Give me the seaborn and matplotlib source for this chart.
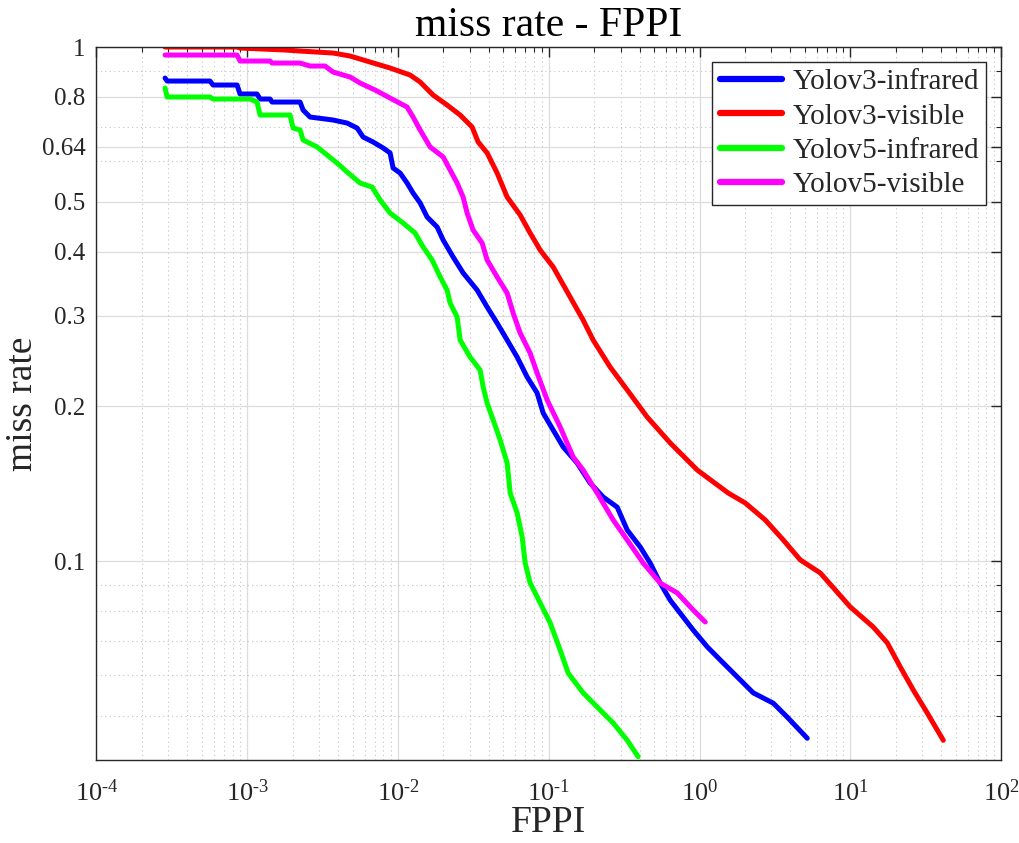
import numpy as np
import pandas as pd
import matplotlib
matplotlib.use("Agg")
import matplotlib.pyplot as plt
from matplotlib.ticker import FixedLocator, FixedFormatter, NullFormatter
import seaborn as sns

# ---------------- data ----------------
series_names = ["Yolov3-infrared", "Yolov3-visible", "Yolov5-infrared", "Yolov5-visible"]
series_colors = ["#0000ff", "#ff0000", "#00ff00", "#ff00ff"]

v3_ir_fppi = [2.85e-4, 2.94e-4, 5.66e-4, 5.93e-4, 8.56e-4, 8.96e-4, 1.161e-3, 1.216e-3, 1.417e-3,
              1.461e-3, 2.241e-3, 2.346e-3, 2.610e-3, 3.709e-3, 4.595e-3, 5.355e-3, 5.868e-3,
              6.835e-3, 7.962e-3, 8.862e-3, 9.279e-3, 0.01033, 0.01149, 0.01259, 0.01402, 0.01560,
              0.01818, 0.01993, 0.02321, 0.02704, 0.03349, 0.03902, 0.04545, 0.05297, 0.06171,
              0.07190, 0.08375, 0.09180, 0.1070, 0.1246, 0.1543, 0.1882, 0.2296, 0.2844, 0.3314,
              0.4041, 0.4709, 0.5485, 0.6391, 0.7795, 0.9082, 1.125, 1.372, 1.779, 2.272, 3.083,
              3.818, 5.185]
v3_ir_mr = [0.8703, 0.8587, 0.8587, 0.8435, 0.8435, 0.8103, 0.8103, 0.7922, 0.7922,
            0.7816, 0.7816, 0.7541, 0.7308, 0.7211, 0.7114, 0.6957, 0.6683,
            0.6535, 0.6363, 0.6222, 0.5816, 0.5687, 0.5437, 0.5199, 0.4974, 0.4670,
            0.4465, 0.4212, 0.3904, 0.3635, 0.3366, 0.3120, 0.2903, 0.2691, 0.2493,
            0.2280, 0.2123, 0.1941, 0.1798, 0.1667, 0.1551, 0.1418, 0.1332, 0.1273, 0.1149,
            0.1065, 0.0991, 0.0906, 0.0839, 0.0778, 0.0734, 0.0681, 0.0642, 0.0595, 0.0554, 0.0529,
            0.0497, 0.0452]

v3_vis_fppi = [2.85e-4, 8.56e-4, 8.96e-4, 1.781e-3, 2.241e-3, 3.709e-3, 4.811e-3, 6.530e-3,
               8.862e-3, 0.01203, 0.01402, 0.01710, 0.02117, 0.02583, 0.03102, 0.03400, 0.03902,
               0.04545, 0.05297, 0.06460, 0.07527, 0.08769, 0.1070, 0.1387, 0.1691, 0.1970,
               0.2555, 0.3314, 0.4496, 0.6391, 0.9669, 1.551, 2.011, 2.729, 3.593, 4.658, 6.324,
               10.0, 14.21, 17.60, 21.47, 26.19, 32.43, 41.41]
v3_vis_mr = [1.0, 1.0, 0.9955, 0.9867, 0.9822, 0.9735, 0.9605, 0.9350,
             0.9103, 0.8822, 0.8550, 0.8065, 0.7712, 0.7374, 0.6988, 0.6535, 0.6222,
             0.5687, 0.5106, 0.4712, 0.4346, 0.4027, 0.3733, 0.3262, 0.2943, 0.2691,
             0.2384, 0.2152, 0.1906, 0.1697, 0.1503, 0.1356, 0.1297, 0.1202, 0.1099, 0.1005, 0.0948,
             0.0814, 0.0744, 0.0693, 0.0622, 0.0561, 0.0506, 0.0448]

v5_ir_fppi = [2.85e-4, 2.94e-4, 5.66e-4, 5.93e-4, 1.044e-3, 1.161e-3, 1.216e-3, 1.923e-3, 2.013e-3,
              2.241e-3, 2.346e-3, 2.905e-3, 3.384e-3, 3.944e-3, 4.595e-3, 5.606e-3, 6.731e-3,
              7.606e-3, 8.862e-3, 0.01081, 0.01298, 0.01468, 0.01684, 0.01904, 0.02117, 0.02217,
              0.02467, 0.02583, 0.03009, 0.03506, 0.03671, 0.03902, 0.04277, 0.04759, 0.05297,
              0.05546, 0.06171, 0.06661, 0.06973, 0.07527, 0.08769, 0.1022, 0.1190, 0.1346,
              0.1691, 0.2194, 0.2675, 0.3314, 0.3919]
v5_ir_mr = [0.8322, 0.7994, 0.7994, 0.7922, 0.7922, 0.7816, 0.7374, 0.7374, 0.6957,
            0.6895, 0.6594, 0.6392, 0.6166, 0.5947, 0.5713, 0.5437, 0.5341,
            0.5042, 0.4754, 0.4545, 0.4346, 0.4082, 0.3852, 0.3570, 0.3366, 0.3176,
            0.2983, 0.2691, 0.2493, 0.2352, 0.2181, 0.2029, 0.1881, 0.1720, 0.1551,
            0.1356, 0.1240, 0.1114, 0.0991, 0.0906, 0.0829, 0.0758, 0.0671, 0.0605,
            0.0554, 0.0513, 0.0484, 0.0448, 0.0416]

v5_vis_fppi = [2.85e-4, 8.56e-4, 8.96e-4, 1.417e-3, 1.461e-3, 2.241e-3, 2.610e-3, 3.283e-3,
               3.709e-3, 4.811e-3, 5.606e-3, 7.047e-3, 8.862e-3, 0.01149, 0.01259, 0.01402,
               0.01633, 0.01993, 0.02217, 0.02467, 0.02704, 0.02874, 0.03150, 0.03615, 0.03902,
               0.04545, 0.05297, 0.05806, 0.06460, 0.07527, 0.08375, 0.09759, 0.1190, 0.1452,
               0.1691, 0.2095, 0.2675, 0.3314, 0.4231, 0.5485, 0.7112, 0.9082, 1.091]
v5_vis_mr = [0.9648, 0.9648, 0.9392, 0.9392, 0.9308, 0.9308, 0.9184, 0.9184,
             0.8940, 0.8743, 0.8510, 0.8249, 0.7957, 0.7643, 0.7308, 0.6895,
             0.6392, 0.6111, 0.5764, 0.5437, 0.5106, 0.4754, 0.4405, 0.4156, 0.3852,
             0.3570, 0.3321, 0.3037, 0.2777, 0.2538, 0.2321, 0.2057, 0.1823, 0.1593,
             0.1503, 0.1356, 0.1202, 0.1099, 0.0991, 0.0906, 0.0867, 0.0803, 0.0761]

x_major = [1e-4, 1e-3, 1e-2, 1e-1, 1e0, 1e1, 1e2]
x_major_labels = ["$10^{\\text{-}4}$", "$10^{\\text{-}3}$", "$10^{\\text{-}2}$", "$10^{\\text{-}1}$",
                  "$10^{0}$", "$10^{1}$", "$10^{2}$"]
y_major = [0.1, 0.2, 0.3, 0.4, 0.5, 0.64, 0.8, 1.0]
y_major_labels = ["0.1", "0.2", "0.3", "0.4", "0.5", "0.64", "0.8", "1"]
y_minor = [0.05, 0.06, 0.07, 0.08, 0.09, 0.6, 0.7, 0.9]
x_lim = (1e-4, 1e2)
y_lim = (0.041, 1.0)

# ---------------- build long-form table ----------------
frames = []
for name, fx, my in zip(series_names,
                        [v3_ir_fppi, v3_vis_fppi, v5_ir_fppi, v5_vis_fppi],
                        [v3_ir_mr, v3_vis_mr, v5_ir_mr, v5_vis_mr]):
    frames.append(pd.DataFrame({"FPPI": fx, "miss rate": my, "model": name,
                                "order": np.arange(len(fx))}))
df = pd.concat(frames, ignore_index=True)

# ---------------- style ----------------
sns.set_style("white")
plt.rcParams["font.family"] = ["Liberation Serif", "DejaVu Serif"]
plt.rcParams["mathtext.fontset"] = "custom"
plt.rcParams["mathtext.rm"] = "Liberation Serif"
plt.rcParams["mathtext.it"] = "Liberation Serif:italic"
plt.rcParams["mathtext.bf"] = "Liberation Serif:bold"

fig = plt.figure(figsize=(10.2, 8.43), dpi=100)
ax = fig.add_axes([0.0946, 0.0984, 0.8868, 0.8458])
ax.set_xscale("log")
ax.set_yscale("log")

palette = dict(zip(series_names, series_colors))
sns.lineplot(data=df, x="FPPI", y="miss rate", hue="model", hue_order=series_names,
             palette=palette, sort=False, estimator=None, linewidth=3.6, ax=ax,
             legend=False)

ax.set_xlim(*x_lim)
ax.set_ylim(*y_lim)

# ticks
ax.xaxis.set_major_locator(FixedLocator(x_major))
ax.xaxis.set_major_formatter(FixedFormatter(x_major_labels))
x_minor = [m * 10.0 ** e for e in range(-4, 2) for m in range(2, 10)]
ax.xaxis.set_minor_locator(FixedLocator(x_minor))
ax.xaxis.set_minor_formatter(NullFormatter())
ax.yaxis.set_major_locator(FixedLocator(y_major))
ax.yaxis.set_major_formatter(FixedFormatter(y_major_labels))
ax.yaxis.set_minor_locator(FixedLocator(y_minor))
ax.yaxis.set_minor_formatter(NullFormatter())

tick_color = "#262626"
ax.tick_params(axis="both", which="major", direction="in", length=7, width=1.0,
               colors=tick_color, labelsize=18, top=True, right=True, pad=8)
ax.tick_params(axis="both", which="minor", direction="in", length=3.5, width=0.8,
               colors=tick_color, top=True, right=True)
ax.tick_params(axis="x", which="major", pad=14, labelsize=19)

for s in ax.spines.values():
    s.set_color(tick_color)
    s.set_linewidth(1.0)
    s.set_visible(True)

ax.grid(True, which="major", color="#dcdcdc", linestyle="-", linewidth=0.9)
ax.grid(True, which="minor", color="#c4c4c4", linestyle=(0, (1, 3)), linewidth=0.8)
ax.set_axisbelow(True)

ax.set_title("miss rate - FPPI", fontsize=30, color="black", pad=8)
ax.set_xlabel("FPPI", fontsize=27, color=tick_color, labelpad=0)
ax.set_ylabel("miss rate", fontsize=27, color=tick_color, labelpad=1)

handles = [plt.Line2D([], [], color=c, linewidth=4.5) for c in series_colors]
leg = ax.legend(handles, series_names, loc="upper right", fontsize=21, frameon=True,
                fancybox=False, framealpha=1.0, edgecolor="#262626", handlelength=2.15,
                handletextpad=0.35, labelspacing=0.27, borderpad=0.25, borderaxespad=0.5)
leg.get_frame().set_linewidth(1.0)

fig.savefig("out.png", dpi=100, facecolor="white")
